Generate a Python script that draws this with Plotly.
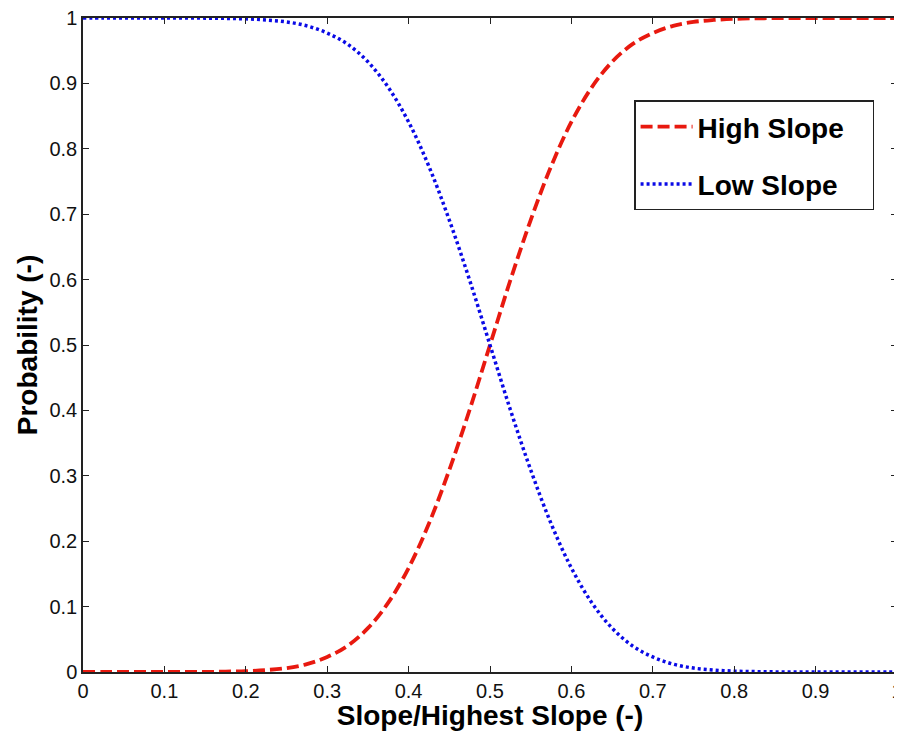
import plotly.graph_objects as go

x_vals = [0.0, 0.025, 0.05, 0.075, 0.1, 0.125, 0.15, 0.175, 0.2, 0.225, 0.25,
          0.275, 0.3, 0.325, 0.35, 0.375, 0.4, 0.425, 0.45, 0.475, 0.5,
          0.525, 0.55, 0.575, 0.6, 0.625, 0.65, 0.675, 0.7, 0.725, 0.75,
          0.775, 0.8, 0.825, 0.85, 0.875, 0.9, 0.925, 0.95, 0.975, 1.0]

high_slope = [0.0, 0.0, 0.0, 0.0, 0.0, 0.0001, 0.0002, 0.0006, 0.0013, 0.003, 0.006,
              0.012, 0.023, 0.040, 0.067, 0.106, 0.159, 0.227, 0.309, 0.401, 0.5,
              0.599, 0.691, 0.773, 0.841, 0.894, 0.933, 0.960, 0.977, 0.988, 0.994,
              0.997, 0.9987, 0.9994, 0.9998, 0.9999, 1.0, 1.0, 1.0, 1.0, 1.0]

low_slope = [1.0, 1.0, 1.0, 1.0, 1.0, 0.9999, 0.9998, 0.9994, 0.9987, 0.997, 0.994,
             0.988, 0.977, 0.960, 0.933, 0.894, 0.841, 0.773, 0.691, 0.599, 0.5,
             0.401, 0.309, 0.227, 0.159, 0.106, 0.067, 0.040, 0.023, 0.012, 0.006,
             0.003, 0.0013, 0.0006, 0.0002, 0.0001, 0.0, 0.0, 0.0, 0.0, 0.0]

tick_vals = [0, 0.1, 0.2, 0.3, 0.4, 0.5, 0.6, 0.7, 0.8, 0.9, 1]
tick_text = ["0", "0.1", "0.2", "0.3", "0.4", "0.5", "0.6", "0.7", "0.8", "0.9", "1"]

FONT = "Arial, Liberation Sans, sans-serif"
AX = "#222222"

fig = go.Figure()
fig.add_trace(go.Scatter(
    x=x_vals, y=high_slope, mode="lines", name="<b>High Slope</b>&nbsp;&nbsp;&nbsp;",
    line=dict(color="#e8190f", width=3.8, dash="12px,5px", shape="spline"),
    legendgroup="a"))
fig.add_trace(go.Scatter(
    x=x_vals, y=low_slope, mode="lines", name="<b>Low Slope</b>",
    line=dict(color="#0a0ae6", width=3.5, dash="3px,3px", shape="spline"),
    legendgroup="b"))

axis_common = dict(
    range=[0, 1], tickmode="array", tickvals=tick_vals, ticktext=tick_text,
    ticks="inside", ticklen=6, tickwidth=1, tickcolor=AX,
    showline=True, linecolor=AX, linewidth=1.5, mirror="ticks",
    showgrid=False, zeroline=False, automargin=False,
    ticklabeloverflow="allow",
    tickfont=dict(family=FONT, size=20, color="#111111"),
)

fig.update_layout(
    width=894, height=723,
    margin=dict(l=75, r=5, t=10, b=59),
    paper_bgcolor="white", plot_bgcolor="white",
    xaxis=dict(**axis_common,
               title=dict(text="Slope/Highest Slope (-)", standoff=2,
                          font=dict(family=FONT, size=28, color="black", weight="bold"))),
    yaxis=dict(**axis_common,
               title=dict(text="Probability (-)", standoff=4,
                          font=dict(family=FONT, size=28, color="black", weight="bold"))),
    legend=dict(x=0.677, y=0.874, xanchor="left", yanchor="top",
                bgcolor="white", bordercolor="#222222", borderwidth=1.5,
                font=dict(family=FONT, size=28, color="black"),
                traceorder="grouped", tracegroupgap=18, itemwidth=52),
    showlegend=True,
)

fig.write_html("out.html")
